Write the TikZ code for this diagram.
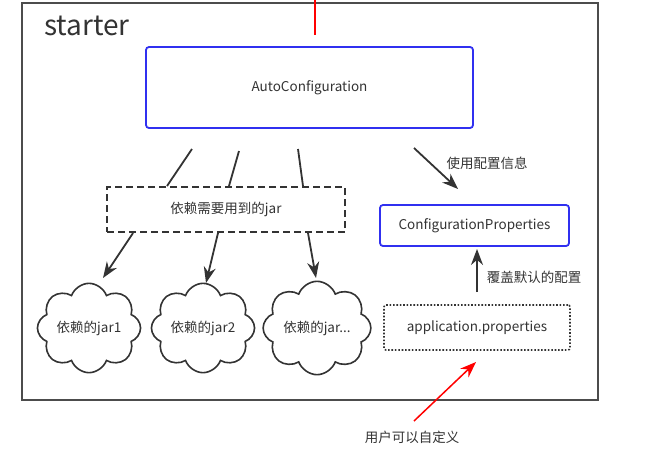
\documentclass[tikz,border=0pt]{standalone}
\usepackage{fontspec}
\setmainfont{Noto Sans CJK SC}
\usetikzlibrary{shapes.symbols,arrows.meta}
\definecolor{lineg}{HTML}{333333}
\definecolor{boxblue}{HTML}{3030F0}
\definecolor{txtg}{HTML}{333333}
\tikzset{
  txt/.style={text=txtg, font=\fontsize{13.5}{15}\selectfont},
  bluebox/.style={txt, draw=boxblue, line width=1.8pt, rounded corners=3pt, inner sep=0pt},
  dashbox/.style={txt, draw=lineg, line width=1.6pt, dash pattern=on 7pt off 4pt, inner sep=0pt},
  dotbox/.style={txt, draw=lineg, line width=1.6pt, dash pattern=on 1.6pt off 1.8pt, rounded corners=2pt, inner sep=0pt},
  jarcloud/.style={txt, cloud, cloud puffs=8, cloud puff arc=140, aspect=1.3, draw=lineg, line width=1.6pt, minimum width=97pt, minimum height=76pt, inner sep=0pt},
  plain/.style={draw=lineg, line width=1.8pt},
  arr/.style={draw=lineg, line width=1.8pt, -{Stealth[length=16pt,width=12pt]}},
  redarr/.style={draw=red, line width=1.5pt, -{Stealth[length=16pt,width=12pt]}},
  lbl/.style={txt, inner sep=0pt},
}
\begin{document}
\begin{tikzpicture}[x=1pt,y=-1pt]
\useasboundingbox (0,0) rectangle (666,458);
% outer starter box
\node[draw=black!70, line width=2pt, minimum width=576pt, minimum height=397pt, inner sep=0pt] (starter) at (310,201.5) {};
\node[anchor=west, text=txtg, font=\fontsize{28}{30}\selectfont, inner sep=0pt] (startertxt) at (44,26) {starter};
% red line at top
\coordinate (redtop) at (315,0);
\coordinate (redbot) at (315,35);
\draw[red, line width=1.4pt] (redtop) -- (redbot);
% AutoConfiguration
\node[bluebox, minimum width=327pt, minimum height=81pt] (auto) at (309.5,87.5) {AutoConfiguration};
% dashed jar box
\node[dashbox, minimum width=238pt, minimum height=45pt] (deps) at (226,209.5) {依赖需要用到的jar};
% lines from auto to deps
\coordinate (a1) at (192,149); \coordinate (b1) at (167,186);
\coordinate (a2) at (239,151); \coordinate (b2) at (229,186);
\coordinate (a3) at (298,149); \coordinate (b3) at (303,186);
\draw[plain] (a1) -- (b1);
\draw[plain] (a2) -- (b2);
\draw[plain] (a3) -- (b3);
% clouds
\node[jarcloud] (jar1) at (89,328) {依赖的jar1};
\node[jarcloud] (jar2) at (203,328) {依赖的jar2};
\node[jarcloud] (jar3) at (317,328) {依赖的jar...};
% arrows deps -> clouds
\coordinate (c1) at (133,233); \coordinate (d1) at (103,278);
\coordinate (c2) at (218,233); \coordinate (d2) at (206,283);
\coordinate (c3) at (308,233); \coordinate (d3) at (316,278);
\draw[arr] (c1) -- (d1);
\draw[arr] (c2) -- (d2);
\draw[arr] (c3) -- (d3);
% ConfigurationProperties
\node[bluebox, minimum width=189pt, minimum height=41pt] (cprops) at (474.5,225.5) {ConfigurationProperties};
\coordinate (e1) at (414,148); \coordinate (f1) at (458,189);
\draw[arr] (e1) -- (f1);
\node[lbl] (uselbl) at (487,163) {使用配置信息};
% application.properties
\node[dotbox, minimum width=186pt, minimum height=45pt] (appprops) at (477,327.5) {application.properties};
\coordinate (g1) at (477,292); \coordinate (g2) at (477,249);
\draw[arr] (g1) -- (g2);
\node[lbl] (overlbl) at (534,277) {覆盖默认的配置};
% red arrow user
\node[lbl] (userlbl) at (412,437) {用户可以自定义};
\coordinate (h1) at (414,421); \coordinate (h2) at (476,362);
\draw[redarr] (h1) -- (h2);
\end{tikzpicture}
\end{document}
